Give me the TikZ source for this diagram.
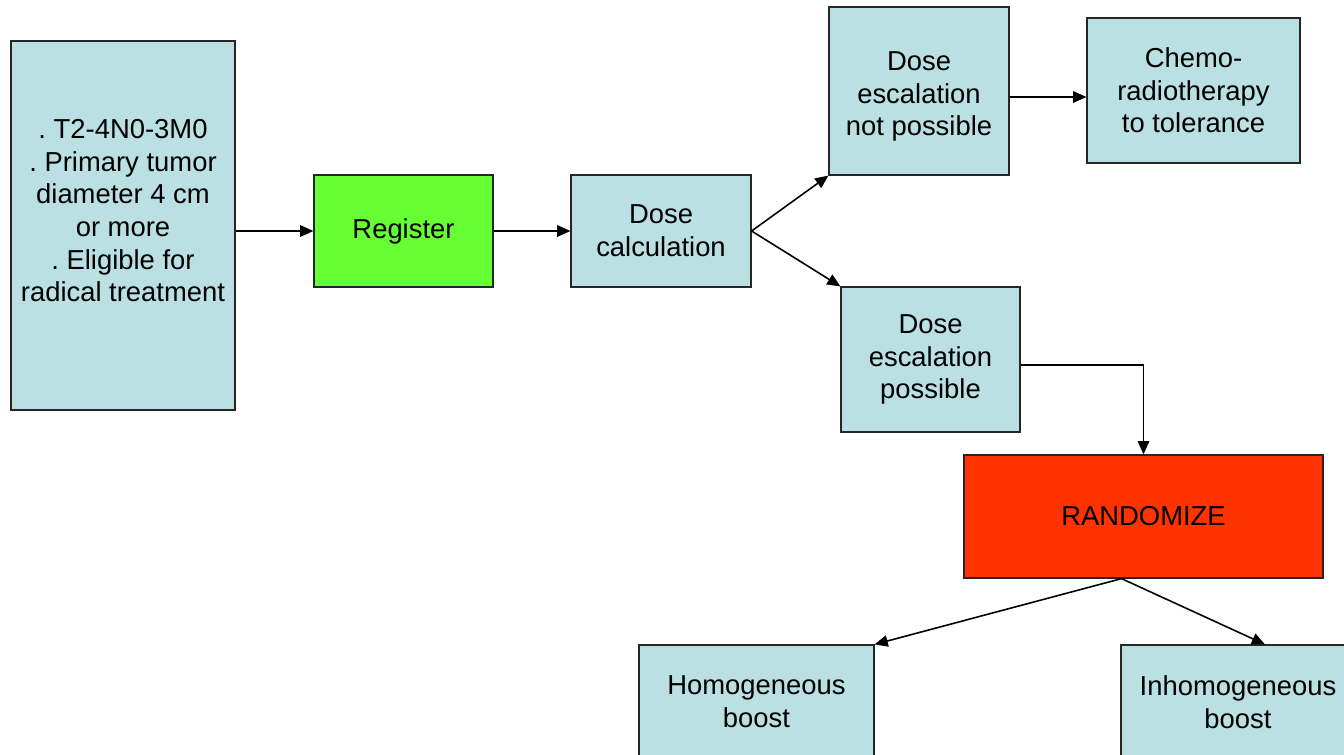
\documentclass[tikz,border=0pt]{standalone}
\usepackage{fontspec}
\setmainfont{Liberation Sans}
\usetikzlibrary{arrows.meta}
\definecolor{boxblue}{HTML}{BBE0E3}
\definecolor{boxgreen}{HTML}{66FF33}
\definecolor{boxred}{HTML}{FF3300}
\frenchspacing
\begin{document}
\begin{tikzpicture}[x=0.02cm,y=-0.02cm,
    stage/.style={draw=black!85, line width=0.7pt, fill=boxblue, align=center, inner sep=0pt,
        font=\fontsize{15.6}{18.6}\selectfont},
    flow/.style={-{Triangle[length=7.5pt,width=6.5pt]}, line width=0.9pt}]
    \useasboundingbox (0,0) rectangle (1344,754);
    \clip (0,0) rectangle (1344,754);
    \node[stage, minimum width=4.48cm, minimum height=7.38cm] (crit) at (123,225.5)
        {. T2-4N0-3M0\\. Primary tumor\\diameter 4 cm\\or more\\. Eligible for\\radical treatment\rule[-0.6cm]{0pt}{0pt}};
    \node[stage, fill=boxgreen, minimum width=3.58cm, minimum height=2.24cm] (reg) at (403.5,231) {Register};
    \node[stage, minimum width=3.6cm, minimum height=2.24cm] (calc) at (661,231) {Dose\\calculation};
    \node[stage, minimum width=3.6cm, minimum height=3.36cm] (nopos) at (919,91) {\rule{0pt}{0.6cm}Dose\\escalation\\not possible};
    \node[stage, minimum width=4.26cm, minimum height=2.9cm] (chemo) at (1193.5,90.5) {Chemo-\\radiotherapy\\to tolerance};
    \node[stage, minimum width=3.58cm, minimum height=2.9cm] (pos) at (930.5,359.5) {Dose\\escalation\\possible};
    \node[stage, fill=boxred, minimum width=7.18cm, minimum height=2.46cm] (rand) at (1143.5,516.5) {RANDOMIZE};
    \node[stage, minimum width=4.7cm, minimum height=2.28cm] (homo) at (756.5,702) {Homogeneous\\boost};
    \node[stage, minimum width=4.68cm, minimum height=2.28cm] (inhomo) at (1238,702) {Inhomogeneous\\boost};
    % connectors
    \draw[flow] (crit.east |- reg.west) -- (reg.west);
    \draw[flow] (reg) -- (calc);
    \draw[flow] (calc.east) -- (nopos.south west);
    \draw[flow] (calc.east) -- (pos.north west);
    \draw[flow] ([yshift=-0.12cm]nopos.east) -- ([yshift=-0.12cm]nopos.east -| chemo.west);
    \draw[flow] ([yshift=-0.11cm]pos.east) -| (rand.north);
    \draw[flow] ([xshift=-0.44cm]rand.south) -- (homo.north east);
    \draw[flow] ([xshift=-0.44cm]rand.south) -- ([xshift=0.54cm]inhomo.north);
\end{tikzpicture}
\end{document}
